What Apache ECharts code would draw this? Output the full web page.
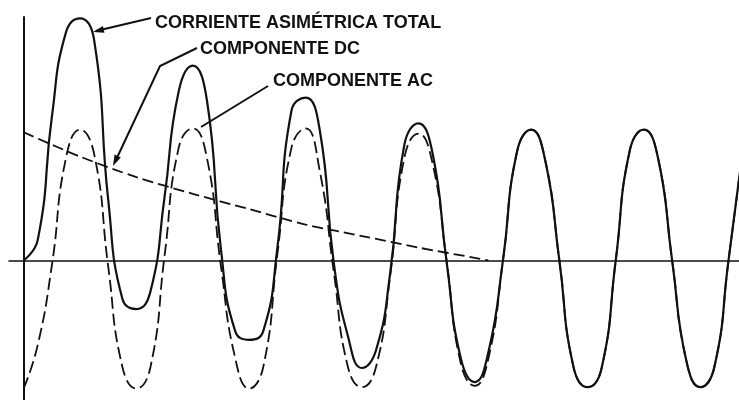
<!DOCTYPE html>
<html>
<head>
<meta charset="utf-8">
<script src="https://cdn.jsdelivr.net/npm/echarts@6/dist/echarts.min.js"></script>
<style>
  html, body { margin: 0; padding: 0; background: #ffffff; }
  #chart { width: 739px; height: 400px; }
</style>
</head>
<body>
<div id="chart"></div>
<script>
// Time in cycles of the AC wave (one cycle = one period), sampled every 1/8 cycle
var cycles = [0, 0.125, 0.25, 0.375, 0.5, 0.625, 0.75, 0.875,
  1, 1.125, 1.25, 1.375, 1.5, 1.625, 1.75, 1.875,
  2, 2.125, 2.25, 2.375, 2.5, 2.625, 2.75, 2.875,
  3, 3.125, 3.25, 3.375, 3.5, 3.625, 3.75, 3.875,
  4, 4.125, 4.25, 4.375, 4.5, 4.625, 4.75, 4.875,
  5, 5.125, 5.25, 5.375, 5.5, 5.625, 5.75, 5.875,
  6, 6.125, 6.25, 6.375];

// Total asymmetric current (% of AC peak)
var totalCurrent = [0, 16, 112, 178, 189, 172, 47, -30,
  -38, -24, 50, 132, 152, 125, 8, -55,
  -62, -55, 10, 117, 127, 102, -2, -59,
  -84, -70, -10, 90, 107, 84, -1, -76,
  -95, -70, 0, 85, 102, 78, 0, -83,
  -99, -84, 0, 86, 102, 80, 0, -78,
  -99, -83, 0, 85];

// AC component (% of AC peak)
var acComponent = [-100, -66, -4, 80, 102, 83, -5, -83,
  -100, -83, 4, 88, 103, 80, -5, -76,
  -100, -83, 5, 88, 103, 70, -9, -83,
  -99, -83, -12, 80, 99, 76, 0, -80,
  -98, -75, 0, 85, 102, 78, 0, -83,
  -99, -84, 0, 86, 102, 80, 0, -78,
  -99, -83, 0, 85];

// DC component (decaying offset)
var dcCycles = [0, 0.5, 1, 1.5, 2, 2.5, 3, 3.5, 4, 4.12];
var dcComponent = [100, 81, 65, 52, 40, 28, 19, 10, 2, 0];

// Annotation labels
var labelTotal = 'CORRIENTE ASIMÉTRICA TOTAL';
var labelDC = 'COMPONENTE DC';
var labelAC = 'COMPONENTE AC';

function pairs(xs, ys) {
  var out = [];
  for (var i = 0; i < xs.length; i++) out.push([xs[i], ys[i]]);
  return out;
}

function arrowHead(tip, from, len, half) {
  var dx = tip[0] - from[0], dy = tip[1] - from[1];
  var d = Math.sqrt(dx * dx + dy * dy);
  var ux = dx / d, uy = dy / d;
  var bx = tip[0] - ux * len, by = tip[1] - uy * len;
  return [tip, [bx - uy * half, by + ux * half], [bx + uy * half, by - ux * half]];
}

var INK = '#111111';
var FONT = 'bold 18px "Liberation Sans", Arial, sans-serif';

var chart = echarts.init(document.getElementById('chart'), null, { renderer: 'canvas' });

var arrowA = [[151, 18], [96, 31]];
var arrowB = [[197, 48], [160, 66], [115, 162]];
var lineC = [[268, 86], [201, 127]];

var option = {
  backgroundColor: '#ffffff',
  animation: false,
  grid: { left: 9, right: 0, top: 17, bottom: 0, containLabel: false },
  xAxis: {
    type: 'value',
    min: -0.13,
    max: 6.343,
    axisLine: { show: true, onZero: true, lineStyle: { color: INK, width: 1.5 } },
    axisTick: { show: false },
    axisLabel: { show: false },
    splitLine: { show: false }
  },
  yAxis: {
    type: 'value',
    min: -109,
    max: 190,
    axisLine: { show: true, onZero: true, lineStyle: { color: INK, width: 2 } },
    axisTick: { show: false },
    axisLabel: { show: false },
    splitLine: { show: false }
  },
  series: [
    {
      name: 'DC',
      type: 'line',
      data: pairs(dcCycles, dcComponent),
      smooth: 0.3,
      showSymbol: false,
      z: 2,
      lineStyle: { color: INK, width: 1.8, type: [11, 5] }
    },
    {
      name: 'AC',
      type: 'line',
      data: pairs(cycles, acComponent),
      smooth: 0.5,
      showSymbol: false,
      z: 3,
      lineStyle: { color: INK, width: 1.8, type: [12, 5] }
    },
    {
      name: 'Total',
      type: 'line',
      data: pairs(cycles, totalCurrent),
      smooth: 0.5,
      showSymbol: false,
      z: 4,
      lineStyle: { color: INK, width: 2.2 }
    }
  ],
  graphic: [
    { type: 'text', x: 155, y: 23, style: { text: labelTotal, font: FONT, fill: INK, textVerticalAlign: 'middle' } },
    { type: 'text', x: 200, y: 49, style: { text: labelDC, font: FONT, fill: INK, textVerticalAlign: 'middle' } },
    { type: 'text', x: 273, y: 81, style: { text: labelAC, font: FONT, fill: INK, textVerticalAlign: 'middle' } },
    { type: 'polyline', shape: { points: arrowA }, style: { stroke: INK, lineWidth: 2, fill: null } },
    { type: 'polygon', shape: { points: arrowHead([93, 32], arrowA[0], 11, 3.5) }, style: { fill: INK } },
    { type: 'polyline', shape: { points: arrowB }, style: { stroke: INK, lineWidth: 2, fill: null } },
    { type: 'polygon', shape: { points: arrowHead([113, 166], arrowB[1], 11, 3.5) }, style: { fill: INK } },
    { type: 'polyline', shape: { points: lineC }, style: { stroke: INK, lineWidth: 2, fill: null } }
  ]
};

chart.setOption(option);
</script>
</body>
</html>
